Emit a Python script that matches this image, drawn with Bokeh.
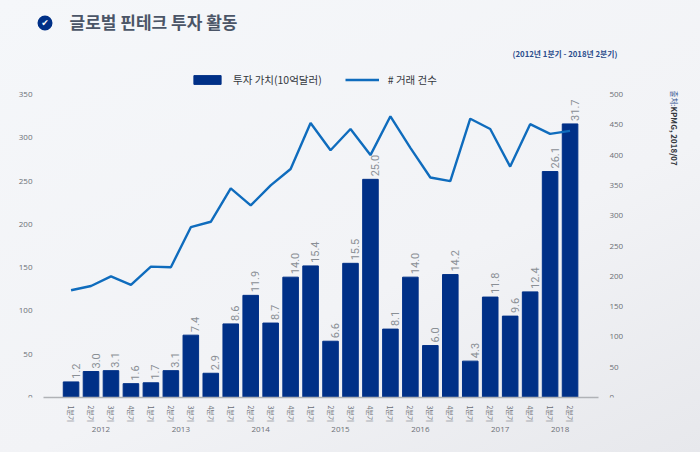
from bokeh.plotting import figure
from bokeh.models import (FactorRange, Range1d, LinearAxis, FixedTicker, Label,
                          BoxAnnotation, Legend, LegendItem, ColumnDataSource)
from bokeh.core.properties import value
from bokeh.embed import file_html
from bokeh.resources import INLINE

years = ["2012"]*4 + ["2013"]*4 + ["2014"]*4 + ["2015"]*4 + ["2016"]*4 + ["2017"]*4 + ["2018"]*2
quarters = ["1분기","2분기","3분기","4분기"]*6 + ["1분기","2분기"]
bar_heights = [18,30,31,16,17,31,72,28,85,118,86,139,152,65,155,252,79,139,60,142,42,116,94,122,261,316]
bar_labels = ["1.2","3.0","3.1","1.6","1.7","3.1","7.4","2.9","8.6","11.9","8.7","14.0","15.4","6.6",
              "15.5","25.0","8.1","14.0","6.0","14.2","4.3","11.8","9.6","12.4","26.1","31.7"]
deal_counts = [177,184,200,186,216,215,281,290,345,317,350,377,453,408,443,400,464,412,363,357,460,443,381,451,435,440]

FONT = "Noto Sans CJK KR"
NAVY = "#003087"
BLUE = "#0f6cbd"
GREY = "#6b6f76"

factors = list(zip(years, quarters))
# three empty slots on the right make the padding even, so the frame can fill the whole page
spare = [("", " "), ("", "  "), ("", "   ")]
source = ColumnDataSource(dict(x=factors, h=bar_heights, t=bar_labels, n=deal_counts))

W, H = 700, 452
BASE = 397            # baseline row in the picture
SCALE = 303 / 350     # pixels per left-axis unit
left_end = BASE / SCALE
AXIS_LEFT, AXIS_RIGHT = -0.88, 26.92   # in factor units

p = figure(width=W, height=H, output_backend="svg", toolbar_location=None,
           x_range=FactorRange(*(factors + spare), factor_padding=0, group_padding=0, subgroup_padding=0, range_padding=0.2093),
           y_range=Range1d(0, left_end), min_border_left=0, min_border_right=0, min_border_top=0, min_border_bottom=H-BASE,
           background_fill_alpha=0, border_fill_alpha=0, outline_line_color=None)
p.grid.visible = False
p.extra_y_ranges = {"right": Range1d(0, left_end * 500 / 350)}

bars = p.vbar(x="x", top="h", width=0.78, source=source, color=NAVY)
line = p.line(x="x", y="n", source=source, y_range_name="right", color=BLUE, line_width=2.4)
p.text(x="x", y="h", text="t", source=source, angle=1.5708, x_offset=4.5, y_offset=-3,
       text_font=value("Roboto"), text_font_size="11px", text_color="#8a8f95", text_baseline="alphabetic", text_align="left")

ax = p.xaxis[0]
ax.bounds = (AXIS_LEFT, AXIS_RIGHT)
ax.axis_line_color = "#b0b2b6"
ax.axis_line_width = 1.5
ax.major_tick_line_color = None
ax.minor_tick_line_color = None
ax.major_label_orientation = "vertical"
ax.major_label_standoff = 2
ax.major_label_text_font = FONT
ax.major_label_text_font_size = "7px"
ax.major_label_text_color = GREY
ax.group_text_font = "Open Sans"
ax.group_text_font_size = "8px"
ax.group_text_font_style = "normal"
ax.group_text_color = GREY
ax.separator_line_alpha = 0

def style_y(a):
    a.axis_line_color = None
    a.major_tick_line_color = None
    a.minor_tick_line_color = None
    a.major_label_text_font = "Open Sans"
    a.major_label_text_font_size = "8px"
    a.major_label_text_color = GREY

yl = p.yaxis[0]
yl.ticker = FixedTicker(ticks=[0,50,100,150,200,250,300,350])
yl.fixed_location = AXIS_LEFT
style_y(yl)
yr = LinearAxis(y_range_name="right", ticker=FixedTicker(ticks=[0,50,100,150,200,250,300,350,400,450,500]))
yr.fixed_location = AXIS_RIGHT
style_y(yr)
p.add_layout(yr, "right")

legend = Legend(items=[LegendItem(label="투자 가치(10억달러)", renderers=[bars]),
                       LegendItem(label="# 거래 건수", renderers=[line])],
                orientation="horizontal", location=(190, BASE-87), background_fill_alpha=0, border_line_color=None,
                glyph_width=34, glyph_height=11, label_standoff=9, spacing=23, margin=0, padding=0,
                label_text_font=FONT, label_text_font_size="10.5px", label_text_color="#33373d")
p.add_layout(legend, "center")

def put(x, y, t, **kw):
    # x, y are picture pixels; Label screen units count from the frame's bottom left corner
    p.add_layout(Label(x=x, y=BASE-y, x_units="screen", y_units="screen", text=t, **kw))

p.add_layout(BoxAnnotation(left=37, right=52, top=BASE-15, bottom=BASE-30, left_units="screen", right_units="screen",
                           top_units="screen", bottom_units="screen", fill_color=NAVY, fill_alpha=1, line_color=None, border_radius=8, level="annotation"))
put(44.5, 22.5, "✔", text_font="DejaVu Sans", text_font_size="9px", text_color="white", text_align="center", text_baseline="middle")
put(69, 21, "글로벌 핀테크 투자 활동", text_font=FONT, text_font_size="17px", text_font_style="bold", text_color="#4b5567", text_baseline="middle")
put(512, 53, "(2012년 1분기 - 2018년 2분기)", text_font=FONT, text_font_size="7.8px", text_font_style="bold", text_color="#2b4c8c", text_baseline="middle")
put(674, 90, "출처:", angle=-1.5708, text_font=FONT, text_font_size="7.5px", text_color="#2b4c8c", text_baseline="middle")
put(674, 106, "KPMG, 2018/07", angle=-1.5708, text_font=FONT, text_font_size="8px", text_font_style="bold", text_color="#33373d", text_baseline="middle")

page_bg = "<style>html{background:linear-gradient(155deg,#f5f7fa 0%,#f2f3f6 60%,#e7e8ec 100%)}</style></head>"
open("out.html", "w").write(file_html(p, INLINE).replace("</head>", page_bg, 1))
